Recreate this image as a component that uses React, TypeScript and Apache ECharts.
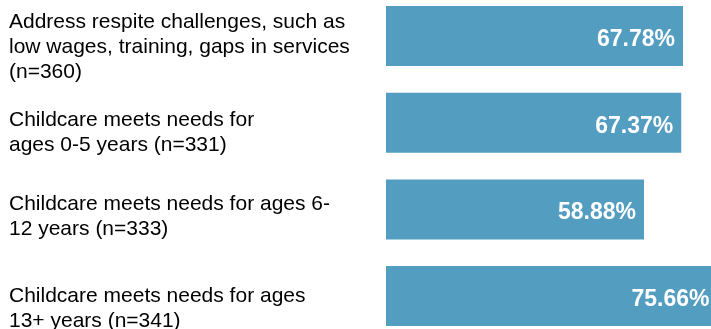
import React, { useEffect, useRef } from "react";
import * as echarts from "echarts";

const categories = [
  "Address respite challenges, such as\nlow wages, training, gaps in services\n(n=360)",
  "Childcare meets needs for\nages 0-5 years (n=331)",
  "Childcare meets needs for ages 6-\n12 years (n=333)",
  "Childcare meets needs for ages\n13+ years (n=341)",
];
const values = [67.78, 67.37, 58.88, 75.66];
const labelShift = [18, 16, 12, 21];

export default function App() {
  const ref = useRef<HTMLDivElement>(null);
  useEffect(() => {
    if (!ref.current) return;
    const chart = echarts.init(ref.current, null, { renderer: "svg" });
    const rich: any = {};
    labelShift.forEach((h, i) => {
      rich["s" + i] = { height: h, lineHeight: h, fontSize: 1 };
    });
    chart.setOption({
      animation: false,
      grid: {
        left: 386,
        top: -7.3,
        width: 438.2,
        height: 346.7,
        containLabel: false,
        outerBoundsMode: "none",
      },
      xAxis: { type: "value", min: 0, max: 100, show: false },
      yAxis: {
        type: "category",
        inverse: true,
        data: categories,
        axisLine: { show: false },
        axisTick: { show: false },
        splitLine: { show: false },
        axisLabel: {
          align: "left",
          margin: 377,
          interval: 0,
          hideOverlap: false,
          color: "#000",
          fontFamily: "Liberation Sans, Arial, sans-serif",
          fontSize: 21,
          lineHeight: 25,
          rich,
          formatter: (v: string, i: number) => `{s${i}|}\n` + v,
        },
      },
      series: [
        {
          type: "bar",
          data: values,
          barWidth: 60,
          itemStyle: { color: "#529DC0" },
          label: {
            show: true,
            position: "insideRight",
            distance: 8,
            offset: [0, 2],
            color: "#fff",
            fontWeight: "bold",
            fontFamily: "Liberation Sans, Arial, sans-serif",
            fontSize: 23,
            formatter: (p: any) => p.value.toFixed(2) + "%",
          },
        },
      ],
    });
    return () => chart.dispose();
  }, []);
  return (
    <div
      ref={ref}
      style={{ position: "fixed", left: 0, top: 0, width: 711, height: 329 }}
    />
  );
}
